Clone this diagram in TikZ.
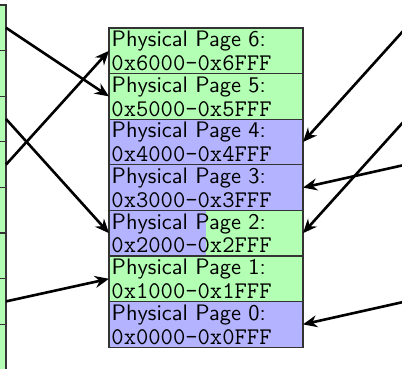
\documentclass[tikz,border=0pt]{standalone}
\usepackage{fontspec}
\usetikzlibrary{arrows.meta,calc}
\definecolor{pagegreen}{RGB}{179,255,179}
\definecolor{pageblue}{RGB}{179,179,255}
\tikzset{
  cell/.style={draw=black!80, line width=0.5pt, minimum width=89.2pt,
    minimum height=20.97pt, inner sep=0pt, outer sep=0pt},
  pagetext/.style={inner sep=0pt, anchor=base west, font=\fontsize{10.3}{12}\sffamily},
  addrtext/.style={inner sep=0pt, anchor=base west, font=\fontsize{11}{13}\ttfamily},
  map/.style={-{Stealth[length=6.5pt,width=5.5pt]}, line width=1.2pt, black},
}
\begin{document}
\begin{tikzpicture}[x=0.4598pt,y=-0.4598pt]
  \useasboundingbox (0,0) rectangle (402,369);
  \fill[white] (0,0) rectangle (402,369);
  \clip (0,0) rectangle (402,369);

  % virtual pages on the left (only their right ends are in view)
  \foreach \j in {0,...,7}
    \node[cell, fill=pagegreen, anchor=north east] (v\j) at (6, 5+45.6*\j) {};

  % virtual pages on the right lie just outside the view
  \foreach \j in {0,...,7}
    \coordinate (r\j) at (406, 27.8+45.6*\j);

  % physical memory column
  \foreach \r/\n/\c in {0/6/pagegreen, 1/5/pagegreen, 2/4/pageblue,
                        3/3/pageblue, 5/1/pagegreen, 6/0/pageblue}
    \node[cell, fill=\c] (p\n) at (206, 50.8+45.6*\r) {};
  \node[cell, fill=pagegreen,
        path picture={\fill[pageblue] (path picture bounding box.south west)
          rectangle (path picture bounding box.north);}]
        (p2) at (206, 50.8+45.6*4) {};

  \foreach \n in {0,...,6} {
    \node[pagetext] (p\n-name) at ($(p\n.north west)+(2.3,18.7)$) {Physical Page \n:};
    \node[addrtext] (p\n-addr) at ($(p\n.north west)+(2.0,42.5)$) {0x\n000–0x\n FFF};
  }

  % page mappings
  \draw[map] (v0.east) -- (p5.west);
  \draw[map] (v2.east) -- (p2.west);
  \draw[map] (v3.east) -- (p6.west);
  \draw[map] (v6.east) -- (p1.west);
  \draw[map] (r0) -- (p4.east);
  \draw[map] (r2) -- (p2.east);
  \draw[map] (r3) -- (p3.east);
  \draw[map] (r6) -- (p0.east);
\end{tikzpicture}
\end{document}
